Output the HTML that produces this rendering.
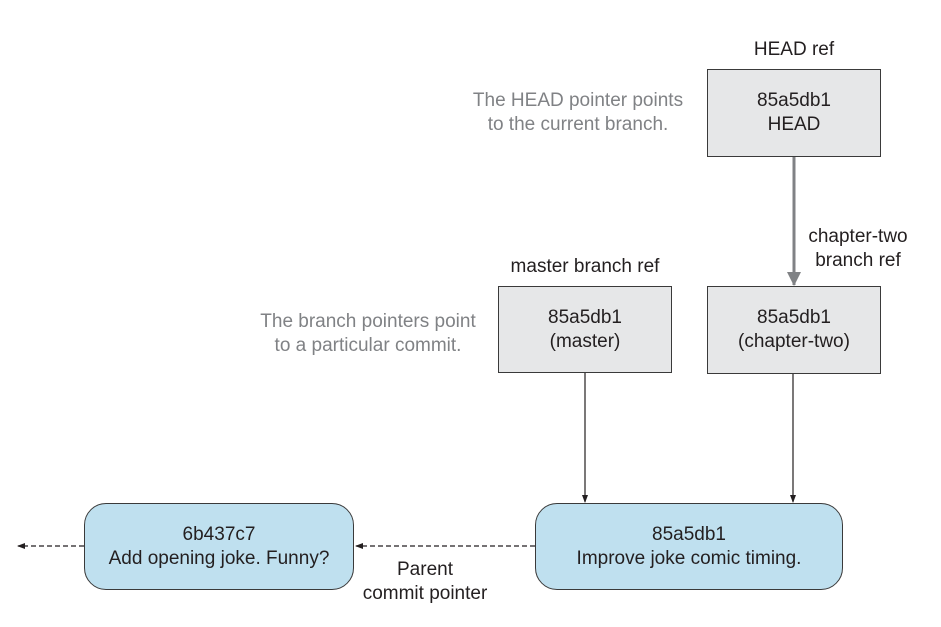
<!DOCTYPE html>
<html><head><meta charset="utf-8"><style>
body{margin:0;width:941px;height:627px;background:#fff;position:relative;overflow:hidden;font-family:"Liberation Sans",Arial,sans-serif;}
.t{position:absolute;font-size:19px;line-height:24px;color:#231f20;text-align:center;white-space:nowrap}
.g{color:#808285}
.box{position:absolute;border:1.5px solid #3a3a3a;background:#e6e7e8;box-sizing:border-box;display:flex;align-items:center;justify-content:center;text-align:center;font-size:19px;line-height:24px;color:#231f20}
.c{background:#bfe0ef;border-radius:22px}
</style></head><body>
<svg width="941" height="627" style="position:absolute;left:0;top:0">
<defs>
<marker id="a" markerWidth="8" markerHeight="8" refX="7" refY="4" orient="auto" markerUnits="userSpaceOnUse"><path d="M0,1 L8,4 L0,7z" fill="#231f20"/></marker>
<marker id="g" markerWidth="14" markerHeight="16" refX="13" refY="7" orient="auto" markerUnits="userSpaceOnUse"><path d="M0,0 L14,7 L0,14z" fill="#808285"/></marker>
</defs>
<line x1="794" y1="156" x2="794" y2="285" stroke="#808285" stroke-width="3" marker-end="url(#g)"/>
<line x1="585" y1="372" x2="585" y2="502" stroke="#231f20" stroke-width="1.2" marker-end="url(#a)"/>
<line x1="793" y1="373" x2="793" y2="502" stroke="#231f20" stroke-width="1.2" marker-end="url(#a)"/>
<line x1="535" y1="546" x2="356" y2="546" stroke="#231f20" stroke-width="1.2" stroke-dasharray="5,3" marker-end="url(#a)"/>
<line x1="84" y1="546" x2="18" y2="546" stroke="#231f20" stroke-width="1.2" stroke-dasharray="5,3" marker-end="url(#a)"/>
</svg>
<div class="t" style="left:724px;top:38px;width:140px">HEAD ref</div>
<div class="t g" style="left:438px;top:89px;width:280px">The HEAD pointer points<br>to the current branch.</div>
<div class="t" style="left:788px;top:225px;width:140px">chapter-two<br>branch ref</div>
<div class="t" style="left:485px;top:255px;width:200px">master branch ref</div>
<div class="t g" style="left:228px;top:310px;width:280px">The branch pointers point<br>to a particular commit.</div>
<div class="box" style="left:707px;top:69px;width:174px;height:88px">85a5db1<br>HEAD</div>
<div class="box" style="left:498px;top:286px;width:174px;height:87px">85a5db1<br>(master)</div>
<div class="box" style="left:707px;top:286px;width:174px;height:88px">85a5db1<br>(chapter-two)</div>
<div class="box c" style="left:84px;top:503px;width:270px;height:87px">6b437c7<br>Add opening joke. Funny?</div>
<div class="box c" style="left:535px;top:503px;width:308px;height:87px">85a5db1<br>Improve joke comic timing.</div>
<div class="t" style="left:345px;top:558px;width:160px">Parent<br>commit pointer</div>
</body></html>
